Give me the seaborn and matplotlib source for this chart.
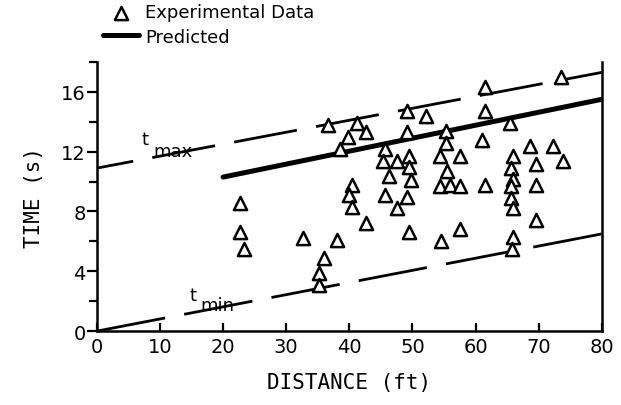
import matplotlib
matplotlib.use("Agg")
import matplotlib.pyplot as plt
import seaborn as sns
import pandas as pd

distance = [22.7, 22.7, 23.3, 32.7, 38.0, 36.0, 35.2, 35.2,
            36.7, 41.2, 39.8, 42.7, 38.5, 40.4, 40.0, 40.4, 42.6,
            49.2, 52.1, 49.2, 45.6, 45.4, 47.5, 49.5, 49.5, 46.3, 49.7,
            45.6, 49.2, 47.5, 49.5,
            55.3, 55.3, 54.4, 57.6, 55.5, 54.4, 55.9, 57.6, 54.5, 57.6,
            61.5, 61.5, 61.0, 61.5,
            65.5, 65.9, 65.6, 65.9, 65.6, 65.6, 65.9, 65.9, 65.7,
            68.7, 69.6, 69.6, 69.6, 72.3, 73.9, 73.6]
time = [8.6, 6.6, 5.5, 6.2, 6.1, 4.9, 3.9, 3.1,
        13.8, 13.9, 13.0, 13.3, 12.2, 9.8, 9.1, 8.3, 7.2,
        14.7, 14.4, 13.3, 12.2, 11.4, 11.4, 11.7, 11.0, 10.4, 10.1,
        9.1, 9.0, 8.2, 6.6,
        13.4, 12.6, 11.7, 11.7, 10.7, 9.7, 9.8, 9.7, 6.0, 6.8,
        16.3, 14.7, 12.8, 9.8,
        13.9, 11.7, 10.9, 10.2, 9.7, 8.9, 8.2, 6.3, 5.5,
        12.4, 11.2, 9.8, 7.4, 12.4, 11.4, 17.0]

# bounding lines and prediction
tmax_x = [0, 80]
tmax_y = [10.9, 17.3]
tmin_x = [0, 80]
tmin_y = [0.0, 6.5]
pred_x = [20, 80]
pred_y = [10.3, 15.5]

df = pd.DataFrame({"distance": distance, "time": time})

sns.set_style("ticks")
plt.rcParams['font.family'] = ['DejaVu Sans']
for key in ["text.color", "axes.labelcolor", "xtick.color", "ytick.color",
            "axes.edgecolor"]:
    plt.rcParams[key] = "black"

fig = plt.figure(figsize=(6.21, 4.06), dpi=100)
ax = fig.add_axes([0.156, 0.182, 0.813, 0.663])

sns.lineplot(x=tmax_x, y=tmax_y, ax=ax, color="black", linewidth=2.0,
             legend=False)
ax.lines[-1].set_linestyle((9.7, (23, 7)))
sns.lineplot(x=tmin_x, y=tmin_y, ax=ax, color="black", linewidth=2.0,
             legend=False)
ax.lines[-1].set_linestyle((0, (25, 7)))
sns.lineplot(x=pred_x, y=pred_y, ax=ax, color="black", linewidth=3.6,
             label="Predicted")
sns.scatterplot(data=df, x="distance", y="time", ax=ax, marker="^", s=90,
                facecolor="white", edgecolor="black", linewidth=1.8,
                label="Experimental Data", zorder=5)

ax.text(7.0, 12.5, "t", fontsize=13)
ax.text(9.0, 11.7, "max", fontsize=13)
ax.text(14.6, 2.1, "t", fontsize=13)
ax.text(16.4, 1.4, "min", fontsize=13)

ax.set_xlim(0, 80)
ax.set_ylim(0, 18)
ax.set_xticks(range(0, 81, 10))
ax.set_yticks(range(0, 17, 4))
ax.set_yticks([2, 6, 10, 14, 18], minor=True)
ax.tick_params(axis="x", direction="in", length=6, width=1.6, labelsize=14, pad=4)
ax.tick_params(axis="y", which="major", direction="out", length=7, width=1.6,
               labelsize=14, pad=1)
ax.tick_params(axis="y", which="minor", direction="out", length=6, width=1.6)
for side in ["left", "bottom", "right"]:
    ax.spines[side].set_linewidth(1.8)
ax.spines["top"].set_visible(False)

ax.set_xlabel("DISTANCE (ft)", fontsize=15, family="DejaVu Sans Mono", labelpad=12)
ax.set_ylabel("TIME (s)", fontsize=15, family="DejaVu Sans Mono", labelpad=12)

handles, labels = ax.get_legend_handles_labels()
order = [labels.index("Experimental Data"), labels.index("Predicted")]
ax.legend([handles[i] for i in order], [labels[i] for i in order],
          loc="lower left", bbox_to_anchor=(0.012, 1.06), frameon=False,
          fontsize=13, handlelength=2.0, handletextpad=0.35, labelspacing=0.35,
          borderpad=0, borderaxespad=0)

fig.savefig("out.png", dpi=100)
